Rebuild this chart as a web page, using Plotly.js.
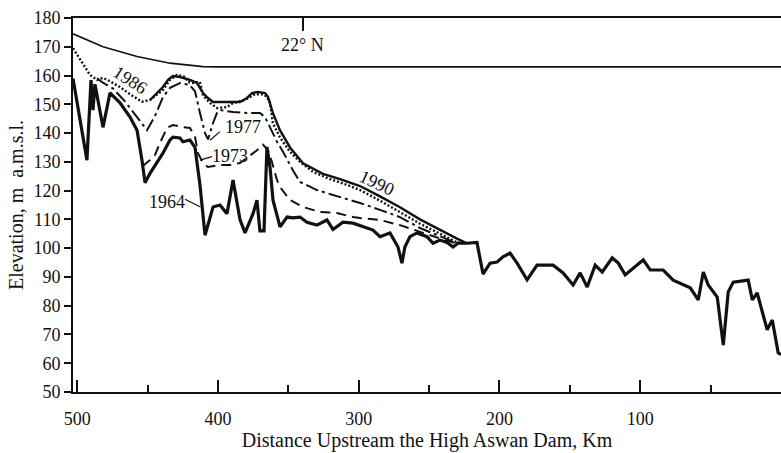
<!DOCTYPE html>
<html>
<head>
<meta charset="utf-8">
<script src="https://cdn.plot.ly/plotly-3.0.1.min.js"></script>
<style>html,body{margin:0;padding:0;background:#fff;}#chart{width:781px;height:453px;}</style>
</head>
<body>
<div id="chart"></div>
<script>
// Distance upstream (km) and elevation (m a.m.s.l.)
const km1964 = [503.0,493.1,490.2,488.8,487.4,481.7,476.7,469.6,462.5,457.5,454.0,451.8,448.3,443.3,439.1,434.1,432.0,427.0,424.9,419.9,416.3,412.8,409.2,403.5,398.6,393.6,389.3,384.4,380.8,375.1,372.3,370.2,367.3,365.2,363.0,360.9,355.9,350.9,346.7,341.7,336.8,329.7,322.6,318.3,311.2,304.1,297.0,289.9,284.9,277.8,272.1,269.3,267.2,263.6,258.6,251.5,247.2,242.3,237.3,233.0,229.5,223.1,216.0,211.7,206.7,201.7,197.5,192.5,187.5,180.4,173.3,161.9,154.8,147.7,142.7,137.7,132.0,127.0,119.9,115.6,110.7,105.0,97.9,92.9,83.7,76.6,71.6,64.5,58.8,55.2,51.7,45.3,41.0,37.5,33.9,23.3,20.4,16.9,9.8,6.2,2.0,0.0];
const el1964 = [159,130.6,158.4,148,157,142,154,150.5,145.6,141,130.6,122.7,126,129.6,133,137.6,138.6,138.3,137,137.6,135,122,104.5,114.3,115,112,123.7,110,105.3,112,116.7,106,106,135.2,128,116.7,107.4,110.8,110.5,110.8,109,108,109.8,106.5,109,108.7,107.4,106.3,104,105.3,100.4,94.8,100.4,104,105.3,104,101.7,102.8,102,100.4,101.7,101.7,102,91,94.8,95.2,97,98.3,94.8,89,94.1,94.1,91.4,87.2,91.4,86.5,94.1,91.7,96.6,94.8,90.7,93.1,95.9,92.4,92.4,88.9,87.9,86.2,82,91.7,87.2,83,66.3,84.8,88.2,88.9,82,84.4,71.6,75,63.6,63];

const km1973 = [453.6,448.3,444.7,441.2,436.2,432.0,424.9,419.9,416.3,414.2,410.6,407.1,398.6,391.5,384.4,377.3,372.3,368.0,364.5,361.7,358.1,356.0,348.8,339.6,327.6,315.5,304.1,299.1,284.9,270.7,256.5,247.2,238.8,231.6];
const el1973 = [128.5,130.6,132.4,136.6,141.8,142.8,142.1,141.8,138.6,133,129.6,128.2,128.9,128.9,129.6,132,134,136,134,130,123.7,121.3,116.7,114.3,112.6,112.2,110.8,110.5,109.8,108,105.6,104,102.8,101.8];

const km1977 = [485.9,481.7,474.6,466.1,459.0,450.4,444.7,439.1,434.1,427.0,419.9,416.3,412.8,409.2,407.1,403.5,400.7,398.6,389.3,379.4,370.2,366.6,363.0,358.1,353.8,346.7,341.7,329.7,318.3,306.2,299.1,284.9,270.7,256.5,242.3,231.6,226.6];
const el1977 = [159,157.5,155.5,151,146.5,141,146,152.5,155.7,157.4,156.7,154.5,147,140,137.8,143.5,147,148,147.3,147,147,145.6,142,137,133.5,127,123,120.2,118.5,116.7,115.7,113.3,110.8,107,104,102,101.7];

const km1986 = [503.0,490.9,485.9,481.7,476.7,469.6,462.5,454.0,448.3,439.1,434.1,429.1,423.4,421.3,417.7,412.8,410.6,405.7,400.7,393.6,389.3,380.8,373.7,368.0,365.2,363.0,361.0,356.0,348.8,341.7,332.5,320.4,308.4,299.1,284.9,270.7,256.5,242.3,231.6,226.6];
const el1986 = [169.5,160.2,158.5,159.2,158,156,153.5,150.9,151.5,155,158.5,160.2,159.5,157.8,157.4,157.8,153,150.5,148.7,149,150.5,151.5,153.5,153.5,152.6,150.5,143.5,138.5,133.5,130,126.5,124,122,120.2,116.5,112.5,108.5,105,102.3,101.7];

const km1990 = [448.3,439.1,435.5,432.0,427.0,419.9,414.9,410.6,407.1,403.5,391.5,384.4,379.4,375.8,371.6,366.6,364.5,361.0,356.0,348.8,339.6,325.4,313.3,299.1,284.9,270.7,256.5,242.3,230.2,223.1];
const el1990 = [151.5,156,158.5,159.8,159.5,158.5,157.4,153.9,152.2,150.8,150.8,150.8,152.2,153.9,154.3,153.9,152.6,147,141,135,129.5,125.8,124,121.6,118,114.2,110,106.3,103.3,101.7];

const kmSurface = [503.0,481.7,457.5,434.1,410.6,400.0,0.0];
const elSurface = [174.5,170,166.6,164.3,163.1,163,163];

const xTickVals = [500,400,300,200,100,0];
const xTickText = ['500','400','300','200','100','0'];
const yTickVals = [50,60,70,80,90,100,110,120,130,140,150,160,170,180];

const serif = 'Liberation Serif, Times New Roman, serif';
const ink = '#111';

function tr(x, y, w, dash) {
  return {x: x, y: y, type: 'scatter', mode: 'lines', hoverinfo: 'skip', cliponaxis: false,
    line: {color: ink, width: w, dash: dash || 'solid', shape: 'linear'}};
}

const data = [
  tr(kmSurface, elSurface, 1.6),
  tr(km1973, el1973, 2, '10px,6px'),
  tr(km1977, el1977, 2, '13px,4px,3px,4px'),
  tr(km1986, el1986, 2.4, '2px,2px'),
  tr(km1990, el1990, 2.4),
  tr(km1964, el1964, 3.2)
];

const lab = (text, x, y, ang) => ({text: text, x: x, y: y, xref: 'x', yref: 'y', showarrow: false,
  textangle: ang || 0, font: {family: serif, size: 18, color: ink}});

const layout = {
  width: 781, height: 453,
  margin: {l: 73, r: 0, t: 18, b: 61},
  paper_bgcolor: '#fff', plot_bgcolor: '#fff',
  showlegend: false,
  font: {family: serif, color: ink},
  xaxis: {
    range: [503, 0], showgrid: false, zeroline: false,
    showline: true, linecolor: ink, linewidth: 2, mirror: true,
    tickvals: xTickVals, ticktext: xTickText,
    ticks: 'inside', ticklen: 12, tickwidth: 2, tickcolor: ink,
    minor: {tickvals: [450,350,250,150,50], ticks: 'inside', ticklen: 7, tickwidth: 2, tickcolor: ink},
    ticklabelstandoff: 9,
    tickfont: {family: serif, size: 18, color: ink},
    title: {text: 'Distance Upstream the High Aswan Dam, Km', font: {family: serif, size: 20, color: ink}, standoff: 3}
  },
  yaxis: {
    range: [50, 180], showgrid: false, zeroline: false,
    showline: true, linecolor: ink, linewidth: 2,
    tickvals: yTickVals,
    ticks: 'outside', ticklen: 7, tickwidth: 2, tickcolor: ink,
    tickfont: {family: serif, size: 18, color: ink},
    title: {text: 'Elevation, m&nbsp;&nbsp;a.m.s.l.', font: {family: serif, size: 20, color: ink}, standoff: 4}
  },
  annotations: [
    lab('1986', 462.5, 158.3, 33),
    lab('1977', 382.2, 142.1),
    lab('1973', 391.5, 132.2),
    lab('1964', 436.2, 116),
    lab('1990', 287, 122.8, 25),
    lab('22° N', 339.6, 170.6)
  ],
  shapes: [
    {type: 'line', xref: 'x', yref: 'y', x0: 339.6, x1: 339.6, y0: 180, y1: 175.5, line: {color: ink, width: 2}},
    {type: 'line', xref: 'x', yref: 'y', x0: 405.7, x1: 398.6, y0: 137.5, y1: 140.5, line: {color: ink, width: 1.2}},
    {type: 'line', xref: 'x', yref: 'y', x0: 412.8, x1: 404.3, y0: 130.6, y1: 131.8, line: {color: ink, width: 1.2}},
    {type: 'line', xref: 'x', yref: 'y', x0: 423.4, x1: 412.5, y0: 117, y1: 114.3, line: {color: ink, width: 1.2}}
  ]
};

Plotly.newPlot('chart', data, layout, {staticPlot: true, displayModeBar: false});
</script>
</body>
</html>
